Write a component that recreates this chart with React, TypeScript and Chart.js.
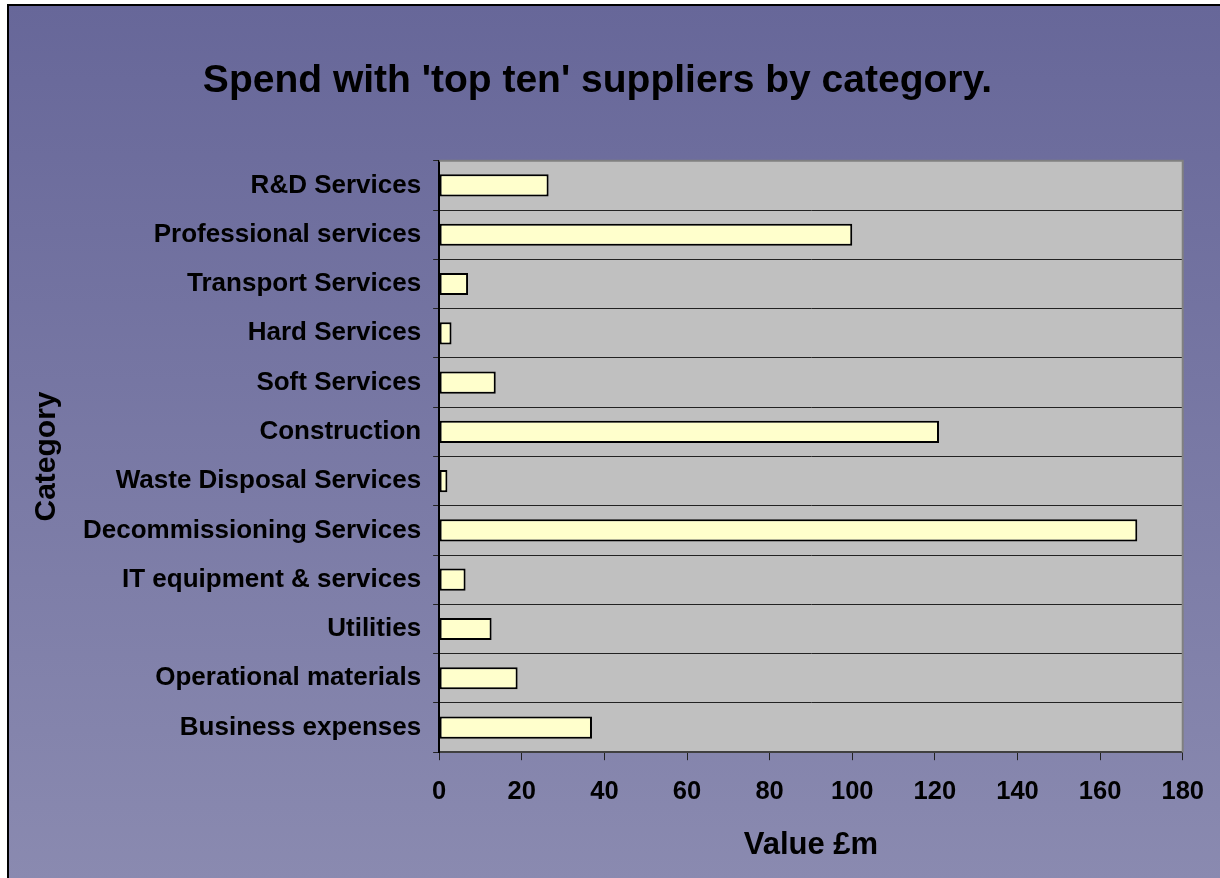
import React, { useEffect, useRef } from "react";
import { Chart, registerables } from "chart.js";

Chart.register(...registerables);

const categories = [
  "R&D Services",
  "Professional services",
  "Transport Services",
  "Hard Services",
  "Soft Services",
  "Construction",
  "Waste Disposal Services",
  "Decommissioning Services",
  "IT equipment & services",
  "Utilities",
  "Operational materials",
  "Business expenses",
];

const spendValues = [26.5, 100, 7, 3, 13.7, 121, 2, 169, 6.4, 12.7, 19, 37];

const xTickMin = 0;
const xTickMax = 180;
const xTickStep = 20;

const chartTitle = "Spend with 'top ten' suppliers by category.";
const xAxisTitle = "Value £m";
const yAxisTitle = "Category";

const FONT = "'Liberation Sans', Arial, sans-serif";

const plotPlugin = {
  id: "plotDecor",
  afterLayout(chart: any) {
    const t = chart.titleBlock;
    if (t) {
      t.left -= 18;
      t.right -= 18;
    }
  },
  beforeDraw(chart: any) {
    const { ctx, chartArea } = chart;
    ctx.save();
    ctx.fillStyle = "#c0c0c0";
    ctx.fillRect(chartArea.left, chartArea.top, chartArea.right - chartArea.left, chartArea.bottom - chartArea.top);
    ctx.restore();
  },
  afterDraw(chart: any) {
    const { ctx, chartArea } = chart;
    ctx.save();
    ctx.strokeStyle = "#808080";
    ctx.lineWidth = 2;
    ctx.beginPath();
    ctx.moveTo(chartArea.left, chartArea.top);
    ctx.lineTo(chartArea.right, chartArea.top);
    ctx.lineTo(chartArea.right, chartArea.bottom);
    ctx.stroke();
    ctx.restore();
  },
};

export default function App() {
  const ref = useRef<HTMLCanvasElement>(null);

  useEffect(() => {
    if (!ref.current) return;
    const chart = new Chart(ref.current, {
      type: "bar",
      data: {
        labels: categories,
        datasets: [
          {
            data: spendValues,
            backgroundColor: "#ffffcc",
            borderColor: "#000000",
            borderWidth: 2,
            borderSkipped: false,
            barPercentage: 0.45,
            categoryPercentage: 1,
          },
        ],
      },
      options: {
        indexAxis: "y",
        animation: false,
        responsive: false,
        maintainAspectRatio: false,
        layout: { padding: { left: 20, right: 18, top: 0, bottom: 10 } },
        plugins: {
          legend: { display: false },
          tooltip: { enabled: false },
          title: {
            display: true,
            text: chartTitle,
            color: "#000",
            font: { family: FONT, size: 39, weight: "bold" },
            padding: { top: 52, bottom: 56 },
          },
        },
        scales: {
          x: {
            min: xTickMin,
            max: xTickMax,
            ticks: {
              stepSize: xTickStep,
              color: "#000",
              font: { family: FONT, size: 25.5, weight: "bold" },
              padding: 16,
              maxRotation: 0,
            },
            grid: {
              drawOnChartArea: false,
              drawTicks: true,
              tickLength: 8,
              color: "#222",
              lineWidth: 1,
            },
            border: { display: true, color: "#404040", width: 2 },
            title: {
              display: true,
              text: xAxisTitle,
              color: "#000",
              font: { family: FONT, size: 31, weight: "bold" },
              padding: { top: 4, bottom: 4 },
            },
          },
          y: {
            ticks: {
              color: "#000",
              font: { family: FONT, size: 26, weight: "bold" },
              padding: 12,
              autoSkip: false,
            },
            grid: {
              offset: true,
              drawOnChartArea: true,
              drawTicks: true,
              tickLength: 6,
              color: "#222",
              lineWidth: 1,
            },
            border: { display: true, color: "#000", width: 2 },
            title: {
              display: true,
              text: yAxisTitle,
              color: "#000",
              font: { family: FONT, size: 30, weight: "bold" },
              padding: { top: 0, bottom: 6 },
            },
          },
        },
      },
      plugins: [plotPlugin],
    });
    return () => chart.destroy();
  }, []);

  return (
    <div
      style={{
        position: "absolute",
        left: 7,
        top: 4,
        width: 1213,
        height: 874,
        borderTop: "2px solid #000",
        borderLeft: "2px solid #000",
        background: "linear-gradient(to bottom, #676799, #8a8ab0)",
        overflow: "hidden",
      }}
    >
      <canvas ref={ref} width={1211} height={872} style={{ display: "block", width: 1211, height: 872 }} />
    </div>
  );
}
